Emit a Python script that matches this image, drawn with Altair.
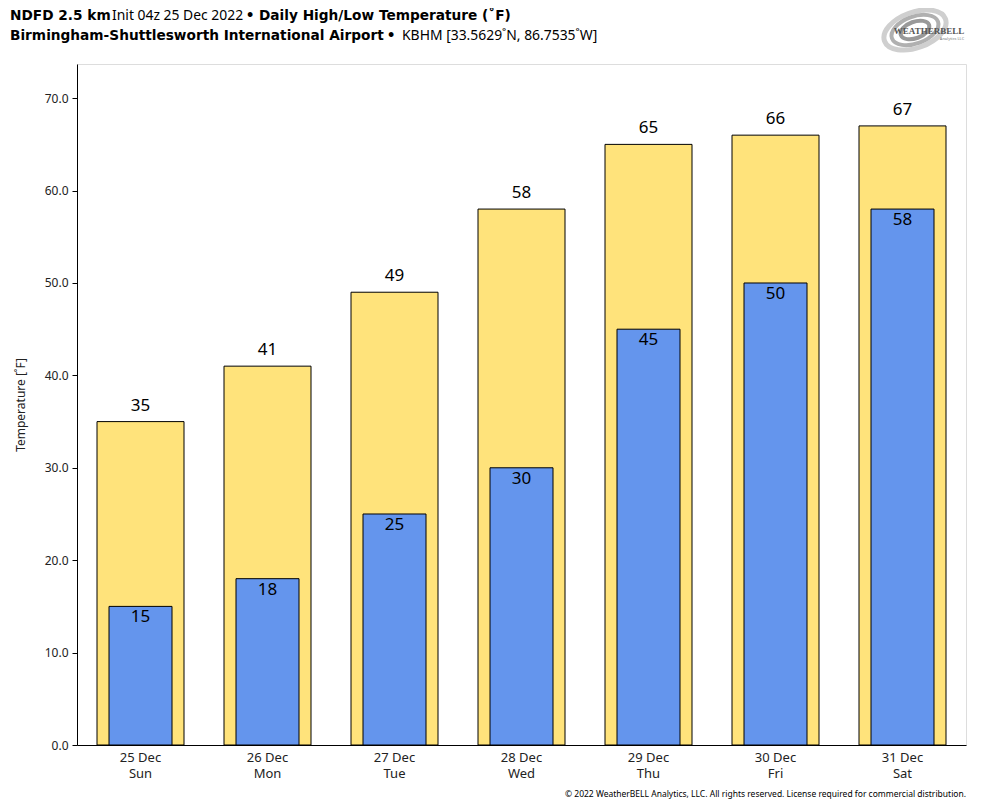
import altair as alt
import pandas as pd

days = ["25 Dec\nSun", "26 Dec\nMon", "27 Dec\nTue", "28 Dec\nWed", "29 Dec\nThu", "30 Dec\nFri", "31 Dec\nSat"]
highs = [35, 41, 49, 58, 65, 66, 67]
lows = [15, 18, 25, 30, 45, 50, 58]

df = pd.DataFrame({"day": days, "high": highs, "low": lows})
FONT = "Noto Sans"
BOLD = "DejaVu Sans"

x = alt.X("day:N", sort=None,
          scale=alt.Scale(paddingInner=0, paddingOuter=0),
          axis=alt.Axis(labelExpr="split(datum.label, '\\n')", labelAngle=0, title=None,
                        ticks=False, labelFontSize=13, labelColor="#222", labelPadding=6,
                        labelLineHeight=16, domainColor="black"))
yscale = alt.Scale(domain=[0, 73.7], nice=False, zero=True)
yaxis = alt.Axis(values=[0, 10, 20, 30, 40, 50, 60, 70], format=".1f", grid=False,
                 title="Temperature [˚F]", titleFontSize=12, titleFontWeight="normal",
                 titleColor="#222", titlePadding=17, labelFontSize=12, labelColor="#222",
                 tickColor="black", tickSize=5, domainColor="black", labelPadding=4)

base = alt.Chart(df)
hb = base.mark_bar(size=87, color="#ffe37b", stroke="black", strokeWidth=1).encode(
    x=x, y=alt.Y("high:Q", scale=yscale, axis=yaxis))
lb = base.mark_bar(size=63, color="#6495ed", stroke="black", strokeWidth=1).encode(
    x=x, y=alt.Y("low:Q", scale=yscale))
ht = base.mark_text(baseline="bottom", dy=-7, fontSize=17, font=FONT, color="black").encode(
    x=x, y=alt.Y("high:Q", scale=yscale), text="high:Q")
lt = base.mark_text(baseline="top", dy=3, fontSize=17, font=FONT, color="black").encode(
    x=x, y=alt.Y("low:Q", scale=yscale), text="low:Q")

def txt(s, xv, yv, size=12, weight="normal", align="left", color="black", font=FONT):
    return alt.Chart(pd.DataFrame({"t": [s]})).mark_text(
        align=align, baseline="middle", fontSize=size, fontWeight=weight, font=font, color=color
    ).encode(x=alt.value(xv), y=alt.value(yv), text="t:N")

ELL = "M -1 0 A 1 0.55 0 1 1 1 0 A 1 0.55 0 1 1 -1 0 Z"
def ring(xv, yv, size, color, width):
    return alt.Chart(pd.DataFrame({"t": [0]})).mark_point(
        shape=ELL, filled=False, stroke=color, strokeWidth=width, opacity=1, angle=340
    ).encode(x=alt.value(xv), y=alt.value(yv), size=alt.value(size))

logo = [
    ring(838, -34, 4200, "#cfcfcf", 5),
    ring(838, -34, 2400, "#b0b0b0", 4),
    ring(838, -34, 900, "#999999", 4),
    txt("WEATHERBELL", 852, -33, size=9, weight="bold", align="center", color="#555", font="Liberation Serif"),
    txt("Analytics LLC", 875, -25, size=4, align="center", color="#777"),
]

BS = 13.7
RS = 13.9
titles = [
    txt("NDFD 2.5 km", -67, -48, size=BS, weight="bold", font=BOLD),
    txt("Init 04z 25 Dec 2022", 35, -48, size=RS),
    txt("•", 173, -48, size=BS, weight="bold", font=BOLD, align="center"),
    txt("Daily High/Low Temperature (˚F)", 182, -48, size=BS, weight="bold", font=BOLD),
    txt("Birmingham-Shuttlesworth International Airport", -67, -28, size=BS, weight="bold", font=BOLD),
    txt("•", 314, -28, size=BS, weight="bold", font=BOLD, align="center"),
    txt("KBHM [33.5629˚N, 86.7535˚W]", 325, -28, size=RS),
    txt("© 2022 WeatherBELL Analytics, LLC. All rights reserved. License required for commercial distribution.",
        889, 730, size=8.5, align="right"),
]

chart = alt.layer(hb, lb, ht, lt, *logo, *titles).properties(
    width=889, height=681,
    autosize=alt.AutoSizeParams(type="none"),
    padding={"left": 69, "top": 56, "right": 10, "bottom": 55},
).configure_view(fill="#f4f4f4", stroke="black", strokeWidth=1).configure(font=FONT)

chart.save("out.html", embed_options={"renderer": "svg", "actions": False})
